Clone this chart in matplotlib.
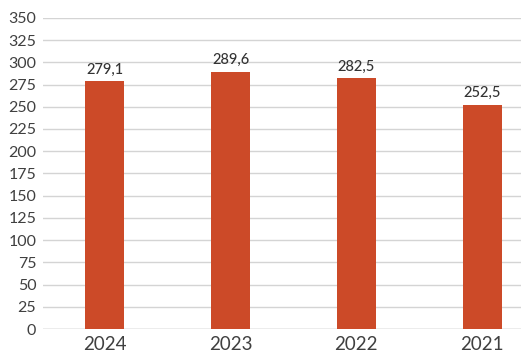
import matplotlib
matplotlib.use("Agg")
import matplotlib.pyplot as plt

years = ["2024", "2023", "2022", "2021"]
values = [279.1, 289.6, 282.5, 252.5]
labels = ["279,1", "289,6", "282,5", "252,5"]
yticks = list(range(0, 351, 25))

plt.rcParams['font.family'] = ['Lato', 'DejaVu Sans']
fig = plt.figure(figsize=(5.21, 3.64), dpi=100)
ax = fig.add_axes([0.083, 0.096, 0.917, 0.855])
x = list(range(len(years)))
ax.bar(x, values, width=0.31, color="#CC4A28", zorder=3)
for xi, v, lab in zip(x, values, labels):
    ax.text(xi, v + 5, lab, ha="center", va="bottom", fontsize=10.5,
            color="#333333", fontweight="medium")
ax.set_xlim(-0.49, 3.31)
ax.set_ylim(0, 350)
ax.set_yticks(yticks)
ax.set_yticklabels([str(t) for t in yticks], fontsize=11.5, color="#404040")
ax.set_xticks(x)
ax.set_xticklabels(years, fontsize=13.5, color="#404040")
ax.yaxis.grid(True, color="#D4D4D4", linewidth=1, zorder=0)
ax.tick_params(axis="both", length=0)
ax.tick_params(axis="y", pad=5)
ax.tick_params(axis="x", pad=5)
for s in ax.spines.values():
    s.set_visible(False)
ax.axhline(0, color="#C8C8C8", linewidth=1, zorder=2)
fig.savefig("out.png", dpi=100)
